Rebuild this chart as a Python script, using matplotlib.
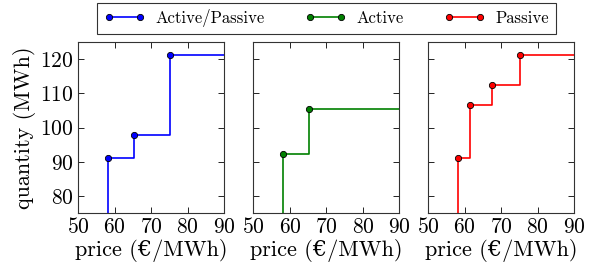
import numpy as np
import matplotlib
matplotlib.use('Agg')
import matplotlib.pyplot as plt
from matplotlib.lines import Line2D

plt.rcParams['font.family'] = ['cmr10', 'DejaVu Serif']
plt.rcParams['mathtext.fontset'] = 'cm'
plt.rcParams['axes.formatter.use_mathtext'] = True

# offers: price (EUR/MWh) and cumulative quantity (MWh)
labels = ['Active/Passive', 'Active', 'Passive']
colors = ['blue', 'green', 'red']
prices = [
    [58.2, 65.4, 75.3],
    [58.1, 65.3],
    [58.2, 61.5, 67.4, 75.1],
]
quantities = [
    [91.2, 98.0, 121.2],
    [92.2, 105.5],
    [91.2, 106.6, 112.5, 121.2],
]
xmin, xmax = 50, 90
ymin, ymax = 75, 125

fig = plt.figure(figsize=(6.02, 2.74), dpi=100)
lefts = [0.1296, 0.421, 0.7115]
width = 0.2425
axes = [fig.add_axes([l, 0.2215, width, 0.625]) for l in lefts]

for i, ax in enumerate(axes):
    p = prices[i]
    q = quantities[i]
    xs = [p[0]] + p + [xmax]
    ys = [0] + q + [q[-1]]
    ax.plot(xs, ys, drawstyle='steps-post', color=colors[i], lw=1.2)
    ax.plot(p, q, 'o', color=colors[i], mec='black', mew=0.6, ms=4.5)
    ax.set_xlim(xmin, xmax)
    ax.set_ylim(ymin, ymax)
    ax.set_xticks([50, 60, 70, 80, 90])
    ax.set_yticks([80, 90, 100, 110, 120])
    ax.tick_params(direction='in', top=True, right=True, labelsize=15.5,
                   length=4, width=0.6, pad=3)
    for s in ax.spines.values():
        s.set_linewidth(0.8)
        s.set_color('#333333')
    ax.set_xlabel('price (€/MWh)', fontsize=16, labelpad=1)
    if i == 0:
        ax.set_ylabel('quantity (MWh)', fontsize=16, labelpad=3)
    else:
        ax.set_yticklabels([])

handles = [Line2D([0], [0], color=c, marker='o', mec='black', mew=0.6, ms=4.5, lw=1.2)
           for c in colors]
leg = fig.legend(handles, labels, loc='upper center', bbox_to_anchor=(0.542, 1.0),
                 ncol=3, numpoints=2, fontsize=12, frameon=True, fancybox=False,
                 edgecolor='black', handlelength=2.5, columnspacing=2.4,
                 handletextpad=0.6, borderaxespad=0.15)
leg.get_frame().set_linewidth(0.8)

fig.savefig('out.png', dpi=100)
